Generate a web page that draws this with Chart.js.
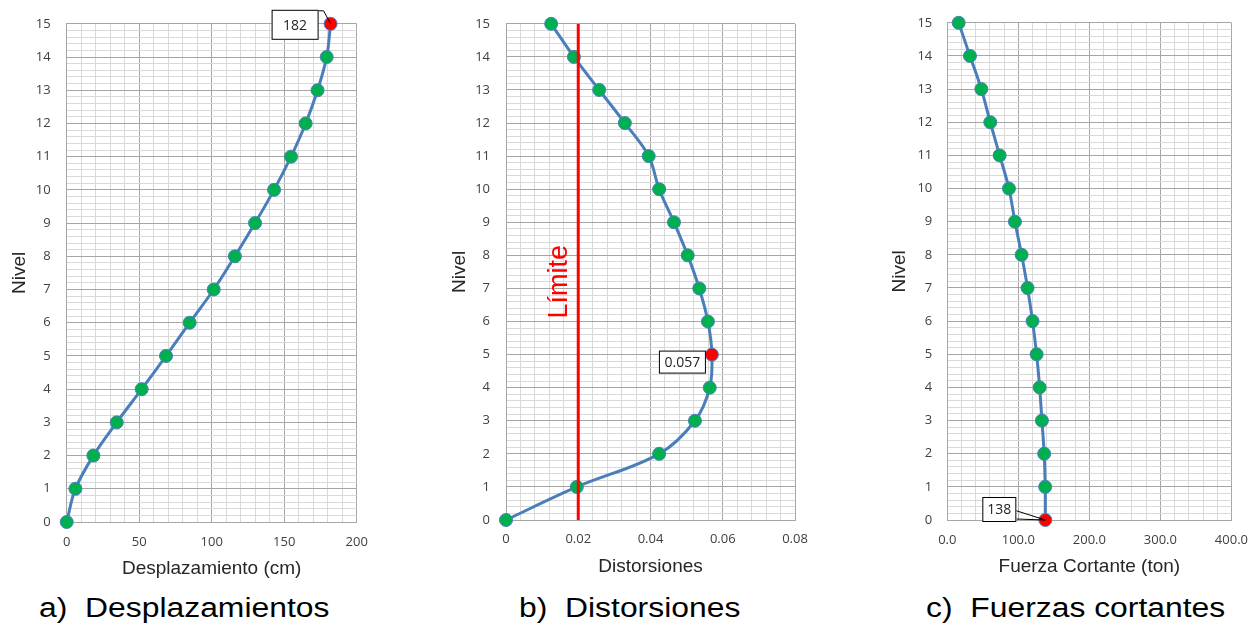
<!DOCTYPE html>
<html>
<head>
<meta charset="utf-8">
<script src="https://cdn.jsdelivr.net/npm/chart.js@4.4.1/dist/chart.umd.min.js"></script>
<style>
  body { margin: 0; background: #fff; width: 1260px; height: 624px; position: relative; overflow: hidden; }
  .box { position: absolute; top: 0; height: 590px; width: 420px; }
  .sub { position: absolute; top: 595px; font-family: "Liberation Sans", Arial, sans-serif; font-size: 27px; line-height: 27px; white-space: pre; color: #000; transform: scaleX(1.18); transform-origin: left top; }
</style>
</head>
<body>
<div class="box" style="left:0px"><canvas id="c1" width="420" height="590"></canvas></div>
<div class="box" style="left:420px"><canvas id="c2" width="420" height="590"></canvas></div>
<div class="box" style="left:840px"><canvas id="c3" width="420" height="590"></canvas></div>
<div class="sub" style="left:39px">a)  Desplazamientos</div>
<div class="sub" style="left:519px">b)  Distorsiones</div>
<div class="sub" style="left:926px">c)  Fuerzas cortantes</div>
<script>
// niveles 0..15
const niveles = [0, 1, 2, 3, 4, 5, 6, 7, 8, 9, 10, 11, 12, 13, 14, 15];

// a) desplazamiento (cm)
const desplazamientos = [0, 6, 18.4, 34.5, 51.7, 68.5, 84.8, 101.4, 116, 129.9, 143, 154.7, 164.8, 173, 179.3, 182];

// b) distorsiones
const distorsiones = [0, 0.0196, 0.0424, 0.0523, 0.0564, 0.057, 0.0559, 0.0535, 0.0503, 0.0465, 0.0424, 0.0395, 0.0329, 0.0258, 0.0188, 0.0125];
const limite = 0.02;

// c) fuerza cortante (ton)
const cortantes = [138, 137.8, 136.4, 133.2, 130, 125.7, 120, 113, 104.6, 95.2, 86.8, 73.7, 60.5, 47.9, 31.9, 16];

const BLUE = "#4a7ebb";
const GREEN = "#00b050";
const RED = "#ff0000";
const tickFont = { family: "'Open Sans', sans-serif", size: 13 };
const titleFont = { family: "'Liberation Sans', Arial, sans-serif", size: 19 };

function gridColor(isMajor) {
  return (ctx) => (isMajor(ctx.tick.value) ? "#a6a6a6" : "#d9d9d9");
}

// callout box with the max value
const calloutPlugin = {
  id: "callout",
  afterDatasetsDraw(chart, args, opts) {
    if (!opts || opts.text == null) return;
    const meta = chart.getDatasetMeta(0);
    const pt = meta.data[opts.index];
    const ctx = chart.ctx;
    const l = pt.x + opts.dx1, r = pt.x + opts.dx2;
    const t = pt.y + opts.dy1, b = pt.y + opts.dy2;
    ctx.save();
    ctx.strokeStyle = "#000";
    ctx.lineWidth = 1;
    if (opts.leader === "top") {
      ctx.beginPath();
      ctx.moveTo(r, t + 1);
      ctx.lineTo(r + 5, t + 1);
      ctx.lineTo(pt.x, pt.y);
      ctx.stroke();
    } else if (opts.leader === "mid") {
      ctx.beginPath();
      ctx.moveTo(r, t + (b - t) * 0.55);
      ctx.lineTo(pt.x, pt.y);
      ctx.lineTo(r, b - 3);
      ctx.stroke();
    }
    ctx.fillStyle = "#fff";
    ctx.fillRect(l, t, r - l, b - t);
    ctx.strokeRect(l + 0.5, t + 0.5, r - l - 1, b - t - 1);
    ctx.fillStyle = "#222";
    ctx.font = "14px 'Open Sans', sans-serif";
    ctx.textAlign = "center";
    ctx.textBaseline = "middle";
    ctx.fillText(opts.text, (l + r) / 2, (t + b) / 2 + 1);
    ctx.restore();
  }
};

// rotated "Límite" text next to the red line
const limitePlugin = {
  id: "limiteText",
  afterDatasetsDraw(chart, args, opts) {
    if (!opts || !opts.text) return;
    const x = chart.scales.x.getPixelForValue(opts.x) - 19;
    const y = chart.scales.y.getPixelForValue(opts.y);
    const ctx = chart.ctx;
    ctx.save();
    ctx.translate(x, y);
    ctx.rotate(-Math.PI / 2);
    ctx.fillStyle = RED;
    ctx.font = "27px 'Liberation Sans', Arial, sans-serif";
    ctx.textAlign = "center";
    ctx.textBaseline = "middle";
    ctx.fillText(opts.text, 0, 0);
    ctx.restore();
  }
};

function makeChart(id, cfg) {
  const maxIdx = cfg.maxIdx;
  const datasets = [{
    data: cfg.xs.map((v, i) => ({ x: v, y: niveles[i] })),
    showLine: true,
    borderColor: BLUE,
    borderWidth: 3,
    tension: 0.35,
    pointRadius: 6.5,
    pointBorderWidth: 1,
    pointBorderColor: BLUE,
    pointBackgroundColor: (c) => (c.dataIndex === maxIdx ? RED : GREEN),
    clip: false,
    order: 1
  }];
  if (cfg.extra) datasets.push(cfg.extra);

  new Chart(document.getElementById(id), {
    type: "scatter",
    data: { datasets },
    plugins: [calloutPlugin, limitePlugin],
    options: {
      responsive: false,
      animation: false,
      devicePixelRatio: 1,
      layout: { padding: { left: 0, right: cfg.padRight, top: cfg.padTop, bottom: 0 } },
      plugins: {
        legend: { display: false },
        tooltip: { enabled: false },
        callout: cfg.callout,
        limiteText: cfg.limiteText || {}
      },
      scales: {
        x: {
          type: "linear",
          min: cfg.xMin,
          max: cfg.xMax,
          afterFit: (s) => { s.height = 590 - cfg.plotBottom; },
          ticks: {
            stepSize: cfg.xMinor,
            autoSkip: false,
            maxRotation: 0,
            maxTicksLimit: 1000,
            padding: cfg.xTickPad,
            color: "#404040",
            font: tickFont,
            callback: (v) => (cfg.xMajor(v) ? cfg.xFmt(v) : "")
          },
          grid: { color: gridColor(cfg.xMajor), lineWidth: 1, drawTicks: false },
          border: { display: true, color: "#a6a6a6" },
          title: {
            display: true,
            text: cfg.xTitle,
            color: "#262626",
            font: titleFont,
            padding: { top: 0, bottom: cfg.xTitlePad }
          }
        },
        y: {
          type: "linear",
          min: 0,
          max: 15,
          afterFit: (s) => { s.width = cfg.yWidth; },
          ticks: {
            stepSize: 0.2,
            autoSkip: false,
            maxTicksLimit: 1000,
            padding: cfg.yTickPad,
            color: "#404040",
            font: tickFont,
            callback: (v) => (Math.abs(v - Math.round(v)) < 1e-6 ? String(Math.round(v)) : "")
          },
          grid: {
            color: gridColor((v) => Math.abs(v - Math.round(v)) < 1e-6),
            lineWidth: 1,
            drawTicks: false
          },
          border: { display: true, color: "#a6a6a6" },
          title: {
            display: true,
            text: "Nivel",
            color: "#262626",
            font: titleFont,
            padding: { top: cfg.yTitlePad, bottom: 0 }
          }
        }
      }
    }
  });
}

const isMult = (v, step) => Math.abs(v / step - Math.round(v / step)) < 1e-6;

makeChart("c1", {
  xs: desplazamientos,
  maxIdx: 15,
  xMin: 0, xMax: 200, xMinor: 10,
  xMajor: (v) => isMult(v, 50),
  xFmt: (v) => String(v),
  xTitle: "Desplazamiento (cm)",
  padRight: 63.3, padTop: 23.3, plotBottom: 522, yWidth: 66.7,
  xTickPad: 12, yTickPad: 16, xTitlePad: 10, yTitlePad: 8.5,
  callout: { index: 15, text: "182", dx1: -59, dx2: -12, dy1: -14, dy2: 16, leader: "top" }
});

makeChart("c2", {
  xs: distorsiones,
  maxIdx: 5,
  xMin: 0, xMax: 0.08, xMinor: 0.004,
  xMajor: (v) => isMult(v, 0.02),
  xFmt: (v) => (v === 0 ? "0" : v.toFixed(2)),
  xTitle: "Distorsiones",
  padRight: 45, padTop: 19, plotBottom: 520, yWidth: 86,
  xTickPad: 11, yTickPad: 16, xTitlePad: 12, yTitlePad: 28,
  callout: { index: 5, text: "0.057", dx1: -53, dx2: -6, dy1: -4, dy2: 19, leader: "none" },
  limiteText: { text: "Límite", x: limite, y: 7.2 },
  extra: {
    data: [{ x: limite, y: 0 }, { x: limite, y: 15 }],
    showLine: true,
    borderColor: RED,
    borderWidth: 3,
    pointRadius: 0,
    tension: 0,
    order: 0
  }
});

makeChart("c3", {
  xs: cortantes,
  maxIdx: 0,
  xMin: 0, xMax: 400, xMinor: 20,
  xMajor: (v) => isMult(v, 100),
  xFmt: (v) => v.toFixed(1),
  xTitle: "Fuerza Cortante (ton)",
  padRight: 28.3, padTop: 20.7, plotBottom: 520, yWidth: 107.3,
  xTickPad: 12, yTickPad: 15, xTitlePad: 12, yTitlePad: 48.5,
  callout: { index: 0, text: "138", dx1: -63, dx2: -29, dy1: -23, dy2: 2, leader: "mid" }
});
</script>
</body>
</html>
